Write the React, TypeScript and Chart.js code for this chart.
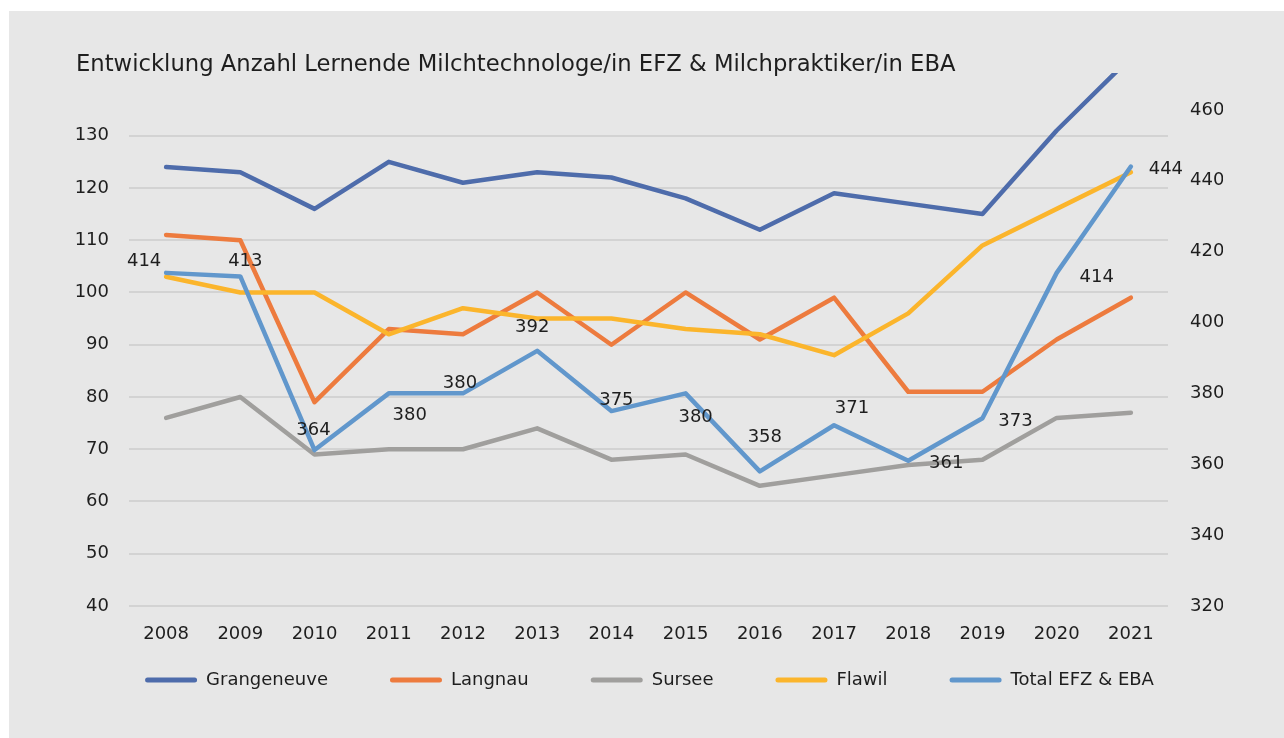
import { useEffect, useRef } from 'react';
import { Chart, registerables } from 'chart.js';

Chart.register(...registerables);

const chartTitle = 'Entwicklung Anzahl Lernende Milchtechnologe/in EFZ & Milchpraktiker/in EBA';
const years = ['2008', '2009', '2010', '2011', '2012', '2013', '2014', '2015', '2016', '2017', '2018', '2019', '2020', '2021'];
const seriesNames = ['Grangeneuve', 'Langnau', 'Sursee', 'Flawil', 'Total EFZ & EBA'];
const grangeneuve = [124, 123, 116, 125, 121, 123, 122, 118, 112, 119, 117, 115, 131, 145];
const langnau = [111, 110, 79, 93, 92, 100, 90, 100, 91, 99, 81, 81, 91, 99];
const sursee = [76, 80, 69, 70, 70, 74, 68, 69, 63, 65, 67, 68, 76, 77];
const flawil = [103, 100, 100, 92, 97, 95, 95, 93, 92, 88, 96, 109, 116, 123];
const totalEfzEba = [414, 413, 364, 380, 380, 392, 375, 380, 358, 371, 361, 373, 414, 444];
const leftAxisRange = [40, 142];
const leftAxisLastTick = 130;
const leftAxisStep = 10;
const rightAxisRange = [320, 470.4];
const rightAxisLastTick = 460;
const rightAxisStep = 20;

const FONT = '"DejaVu Sans", "Open Sans", sans-serif';
const TEXT = '#1e1e1e';
const colors = ['#4e6cab', '#ed7b3e', '#a09f9d', '#fbb52c', '#6197cc'];

const titlePlugin = {
  id: 'fixedTitle',
  afterDraw(chart: any, _a: any, opts: any) {
    const ctx = chart.ctx;
    ctx.save();
    ctx.font = opts.font;
    ctx.fillStyle = opts.color;
    ctx.textAlign = 'left';
    ctx.textBaseline = 'alphabetic';
    ctx.fillText(opts.text, opts.x, opts.y);
    ctx.restore();
  },
};

const legendShiftPlugin = {
  id: 'legendShift',
  afterLayout(chart: any, _a: any, opts: any) {
    const lg = chart.legend;
    if (lg) {
      lg.top -= opts.dy;
      lg.bottom -= opts.dy;
    }
  },
};

const valueLabelPlugin = {
  id: 'valueLabels',
  afterDatasetsDraw(chart: any, _a: any, opts: any) {
    const ctx = chart.ctx;
    const meta = chart.getDatasetMeta(opts.datasetIndex);
    const data = chart.data.datasets[opts.datasetIndex].data;
    ctx.save();
    ctx.font = opts.font;
    ctx.fillStyle = opts.color;
    ctx.textAlign = 'center';
    ctx.textBaseline = 'middle';
    meta.data.forEach((pt: any, i: number) => {
      const off = opts.offsets[i] || [0, -12];
      ctx.fillText(String(data[i]), pt.x + off[0], pt.y + off[1]);
    });
    ctx.restore();
  },
};

export default function App() {
  const ref = useRef<HTMLCanvasElement | null>(null);

  useEffect(() => {
    if (!ref.current) return;
    const mk = (label: string, data: number[], color: string, axis: string, order: number) => ({
      label,
      data,
      borderColor: color,
      backgroundColor: color,
      borderWidth: 4.5,
      borderCapStyle: 'round',
      borderJoinStyle: 'round',
      pointRadius: 0,
      pointHoverRadius: 0,
      tension: 0,
      yAxisID: axis,
      order,
    });
    const chart = new Chart(ref.current, {
      type: 'line',
      data: {
        labels: years,
        datasets: [
          mk(seriesNames[0], grangeneuve, colors[0], 'y', 5),
          mk(seriesNames[1], langnau, colors[1], 'y', 4),
          mk(seriesNames[2], sursee, colors[2], 'y', 3),
          mk(seriesNames[3], flawil, colors[3], 'y', 2),
          mk(seriesNames[4], totalEfzEba, colors[4], 'y2', 1),
        ] as any,
      },
      options: {
        responsive: false,
        animation: false,
        devicePixelRatio: 1,
        layout: { padding: { left: 67, right: 61, top: 62, bottom: 3 } },
        scales: {
          x: {
            offset: true,
            grid: { display: false, offset: true },
            border: { display: false },
            ticks: { color: TEXT, font: { family: FONT, size: 18 }, padding: 10, maxRotation: 0, autoSkip: false },
            afterFit: (s: any) => {
              s.height = 39;
              s.paddingLeft = 0;
              s.paddingRight = 0;
            },
          },
          y: {
            position: 'left',
            min: leftAxisRange[0],
            max: leftAxisRange[1],
            grid: { color: '#d3d3d3', lineWidth: 2, drawTicks: false },
            border: { display: false },
            ticks: { stepSize: leftAxisStep, color: TEXT, font: { family: FONT, size: 18 }, padding: 20 },
            afterBuildTicks: (s: any) => {
              s.ticks = s.ticks.filter((t: any) => t.value <= leftAxisLastTick);
            },
            afterFit: (s: any) => {
              s.width = 53;
              s.paddingTop = 0;
              s.paddingBottom = 0;
            },
          },
          y2: {
            position: 'right',
            min: rightAxisRange[0],
            max: rightAxisRange[1],
            grid: { display: false, drawTicks: false },
            border: { display: false },
            ticks: { stepSize: rightAxisStep, color: TEXT, font: { family: FONT, size: 18 }, padding: 22 },
            afterBuildTicks: (s: any) => {
              s.ticks = s.ticks.filter((t: any) => t.value <= rightAxisLastTick);
            },
            afterFit: (s: any) => {
              s.width = 55;
              s.paddingTop = 0;
              s.paddingBottom = 0;
            },
          },
        },
        plugins: {
          title: { display: false },
          tooltip: { enabled: false },
          legend: {
            position: 'bottom',
            labels: {
              boxWidth: 52,
              boxHeight: 5,
              padding: 62,
              color: TEXT,
              font: { family: FONT, size: 18 },
              generateLabels: (c: any) =>
                c.data.datasets.map((ds: any, i: number) => ({
                  text: ds.label,
                  fillStyle: ds.borderColor,
                  strokeStyle: ds.borderColor,
                  lineWidth: 0,
                  borderRadius: 2.5,
                  hidden: !c.isDatasetVisible(i),
                  datasetIndex: i,
                  fontColor: TEXT,
                })),
            },
          },
          legendShift: { dy: 36 },
          fixedTitle: {
            text: chartTitle,
            font: `22.7px ${FONT}`,
            color: TEXT,
            x: 67,
            y: 60,
          },
          valueLabels: {
            datasetIndex: 4,
            font: `18px ${FONT}`,
            color: TEXT,
            offsets: [
              [-22, -12], [5, -15], [-1, -20], [21, 22], [-3, -10], [-5, -24], [5, -11],
              [10, 24], [5, -34], [18, -17], [38, 3], [33, 3], [40, 4], [35, 3],
            ],
          },
        } as any,
      },
      plugins: [titlePlugin, legendShiftPlugin, valueLabelPlugin],
    } as any);
    return () => chart.destroy();
  }, []);

  return (
    <div
      style={{
        position: 'absolute',
        left: 9,
        top: 11,
        width: 1275,
        height: 727,
        background: '#e7e7e7',
        overflow: 'hidden',
      }}
    >
      <canvas ref={ref} width={1275} height={727} style={{ display: 'block' }} />
    </div>
  );
}
